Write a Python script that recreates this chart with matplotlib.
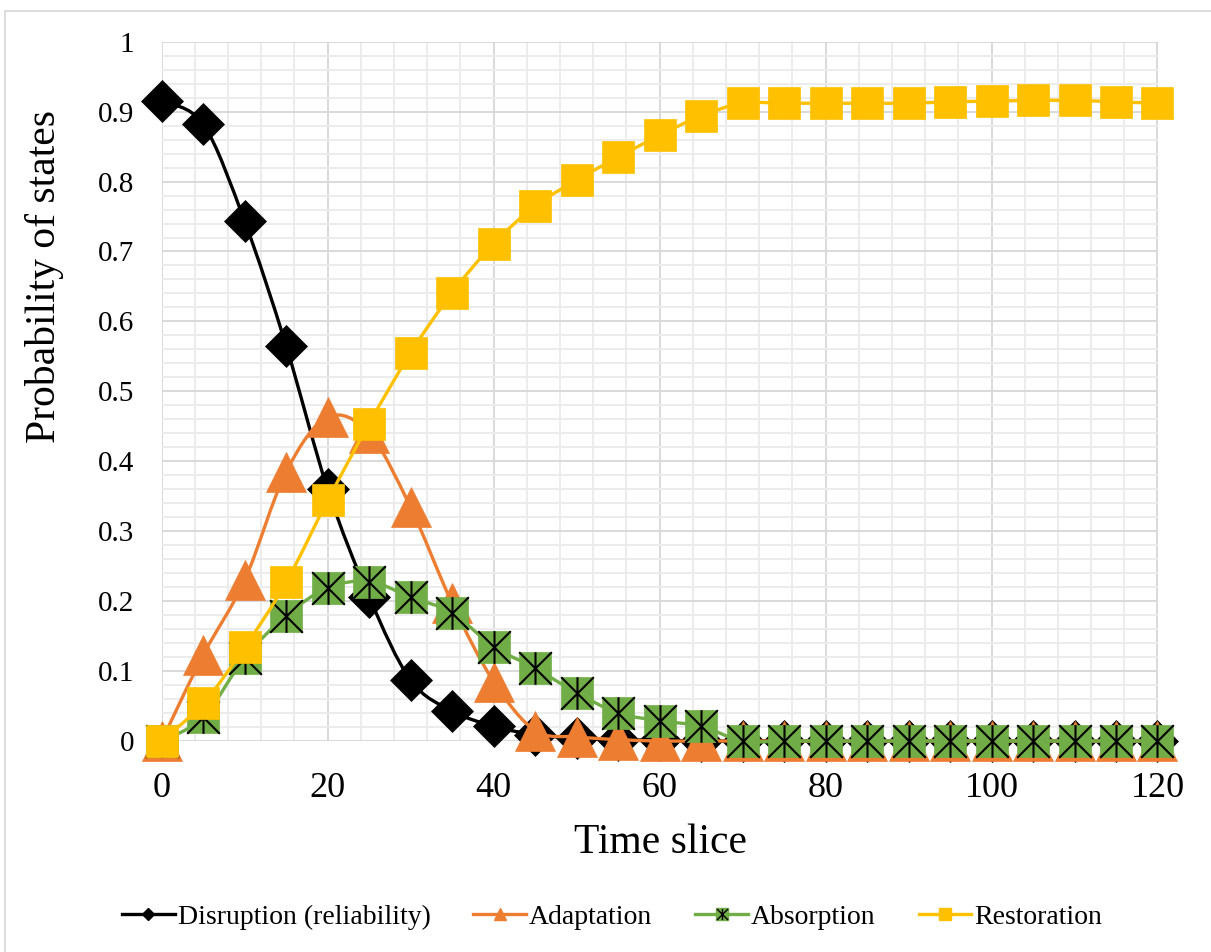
import numpy as np
import matplotlib
matplotlib.use("Agg")
import matplotlib.pyplot as plt
from matplotlib.path import Path
from matplotlib.patches import PathPatch, Rectangle
from matplotlib.lines import Line2D
from matplotlib.ticker import MultipleLocator, FuncFormatter

plt.rcParams['font.family'] = ['Liberation Serif', 'DejaVu Serif']

# ---- data -------------------------------------------------------------
time_slice = list(range(0, 125, 5))

disruption = [0.915, 0.882, 0.743, 0.565, 0.360, 0.206, 0.087, 0.043, 0.021,
              0.009, 0.004, 0.002, 0.001, 0.0, 0.0, 0.0, 0.0, 0.0, 0.0, 0.0,
              0.0, 0.0, 0.0, 0.0, 0.0]
adaptation = [0.0, 0.123, 0.230, 0.385, 0.463, 0.440, 0.334, 0.197, 0.085,
              0.015, 0.006, 0.002, 0.0, 0.0, 0.0, 0.0, 0.0, 0.0, 0.0, 0.0,
              0.0, 0.0, 0.0, 0.0, 0.0]
absorption = [0.0, 0.034, 0.119, 0.179, 0.219, 0.228, 0.206, 0.183, 0.135,
              0.104, 0.069, 0.040, 0.029, 0.021, 0.0, 0.0, 0.0, 0.0, 0.0, 0.0,
              0.0, 0.0, 0.0, 0.0, 0.0]
restoration = [0.0, 0.054, 0.134, 0.227, 0.344, 0.454, 0.555, 0.641, 0.711,
               0.765, 0.802, 0.835, 0.866, 0.894, 0.912, 0.912, 0.912, 0.912,
               0.912, 0.914, 0.915, 0.916, 0.916, 0.914, 0.912]

labels = ["Disruption (reliability)", "Adaptation", "Absorption", "Restoration"]
colors = ["#000000", "#ED7D31", "#70AD47", "#FFC000"]

x_ticks = [0, 20, 40, 60, 80, 100, 120]
y_ticks = [0, 0.1, 0.2, 0.3, 0.4, 0.5, 0.6, 0.7, 0.8, 0.9, 1.0]


def smooth_path(xs, ys):
    """Cubic Bezier path through the points (Catmull-Rom style smoothing)."""
    pts = np.column_stack([xs, ys]).astype(float)
    n = len(pts)
    verts = [tuple(pts[0])]
    codes = [Path.MOVETO]
    for i in range(n - 1):
        p0 = pts[max(i - 1, 0)]
        p1 = pts[i]
        p2 = pts[i + 1]
        p3 = pts[min(i + 2, n - 1)]
        c1 = p1 + (p2 - p0) / 6.0
        c2 = p2 - (p3 - p1) / 6.0
        verts += [tuple(c1), tuple(c2), tuple(p2)]
        codes += [Path.CURVE4] * 3
    return Path(verts, codes)


# star glyph drawn on top of the absorption squares (X plus vertical bar)
star_path = Path([(-1, -1), (1, 1), (-1, 1), (1, -1), (0, -1), (0, 1)],
                 [Path.MOVETO, Path.LINETO, Path.MOVETO, Path.LINETO,
                  Path.MOVETO, Path.LINETO])

fig = plt.figure(figsize=(12.11, 9.52), dpi=100)
ax = fig.add_axes([161.7 / 1211, 1 - 741 / 952,
                   (1157.5 - 161.7) / 1211, (741 - 41.7) / 952])

# outer chart border
fig.patches.append(Rectangle((5 / 1211, -0.05), 1.2, 1 - 11 / 952 + 0.05,
                             transform=fig.transFigure, fill=False,
                             edgecolor="#d9d9d9", linewidth=1.3, zorder=0))

ax.set_xlim(0, 120)
ax.set_ylim(0, 1)
ax.xaxis.set_major_locator(MultipleLocator(20))
ax.xaxis.set_minor_locator(MultipleLocator(4))
ax.yaxis.set_major_locator(MultipleLocator(0.1))
ax.yaxis.set_minor_locator(MultipleLocator(0.02))
ax.yaxis.set_major_formatter(FuncFormatter(lambda v, p: f"{v:g}"))
ax.set_xticks(x_ticks)
ax.set_yticks(y_ticks)

ax.grid(which="minor", color="#ececec", linewidth=1.4)
ax.grid(which="major", color="#d9d9d9", linewidth=1.4)
ax.set_axisbelow(True)
for s in ax.spines.values():
    s.set_visible(False)
ax.tick_params(which="both", length=0)
ax.tick_params(axis="x", labelsize=26, pad=22)
ax.tick_params(axis="y", labelsize=21, pad=20)

series = [disruption, adaptation, absorption, restoration]
lw = 2.4
for k, (vals, col) in enumerate(zip(series, colors)):
    z = 3 + k
    patch = PathPatch(smooth_path(time_slice, vals), fill=False, edgecolor=col,
                      linewidth=lw, zorder=z, clip_on=False,
                      capstyle="round", joinstyle="round")
    ax.add_patch(patch)

ax.plot(time_slice, disruption, linestyle="none", marker="D", ms=21,
        mfc=colors[0], mec=colors[0], mew=0.5, zorder=3.5, clip_on=False)
ax.plot(time_slice, adaptation, linestyle="none", marker="^", ms=28.5,
        mfc=colors[1], mec=colors[1], mew=0.5, zorder=4.5, clip_on=False)
ax.plot(time_slice, absorption, linestyle="none", marker="s", ms=23.5,
        mfc=colors[2], mec=colors[2], mew=0.5, zorder=5.5, clip_on=False)
ax.plot(time_slice, absorption, linestyle="none", marker=star_path, ms=23.5,
        mfc="none", mec="black", mew=1.5, zorder=5.6, clip_on=False)
ax.plot(time_slice, restoration, linestyle="none", marker="s", ms=23.5,
        mfc=colors[3], mec=colors[3], mew=0.5, zorder=6.5, clip_on=False)

fig.text(660 / 1211, 1 - 853 / 952, "Time slice", fontsize=30,
         ha="center", va="baseline")
fig.text(45 / 1211, 1 - 276 / 952, "Probability of states", fontsize=30,
         rotation=90, ha="center", va="center")

# legend
handles = [
    Line2D([], [], color=colors[0], lw=lw, marker="D", ms=6.5,
           mfc=colors[0], mec=colors[0]),
    Line2D([], [], color=colors[1], lw=lw, marker="^", ms=9,
           mfc=colors[1], mec=colors[1]),
    (Line2D([], [], color=colors[2], lw=lw, marker="s", ms=8,
            mfc=colors[2], mec=colors[2]),
     Line2D([], [], color="none", marker=star_path, ms=8, mfc="none",
            mec="black", mew=1.0)),
    Line2D([], [], color=colors[3], lw=lw, marker="s", ms=8,
           mfc=colors[3], mec=colors[3]),
]
fig.legend(handles, labels, loc="center", ncol=4, frameon=False,
           bbox_to_anchor=(612 / 1211, 1 - 917 / 952), fontsize=20,
           handlelength=1.9, handletextpad=0.1, columnspacing=1.55,
           borderaxespad=0)

fig.savefig("out.png", dpi=100)
